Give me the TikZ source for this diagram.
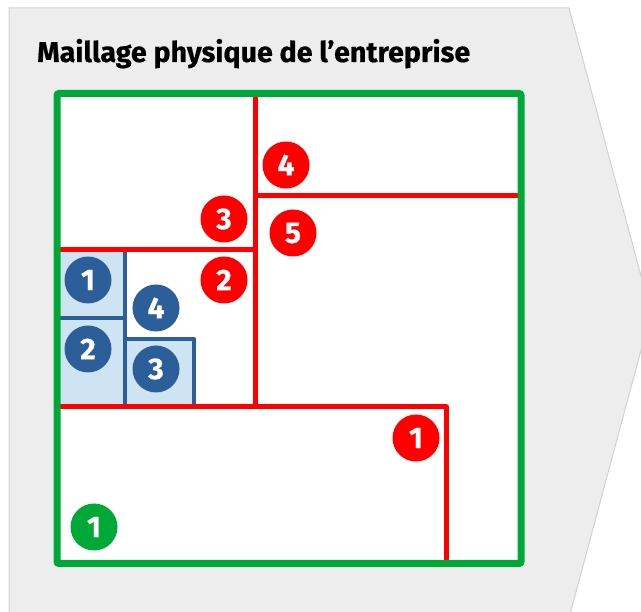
\documentclass[tikz,border=0pt]{standalone}
\usepackage{fontspec}
\usepackage{graphicx}
\setmainfont{Fira Sans}
\newfontfamily\headfont[FakeBold=0.6]{Fira Sans}
\definecolor{pagegray}{HTML}{EDEDED}
\definecolor{edgegray}{HTML}{D2D2D2}
\definecolor{sitegreen}{HTML}{00A838}
\definecolor{zonered}{HTML}{FF0000}
\definecolor{unitblue}{HTML}{2C5F9A}
\definecolor{unitfill}{HTML}{CFE4F3}
\newsavebox\headbox
\makeatletter
\newcommand\headscale{\fpeval{433/\strip@pt\wd\headbox}}
\makeatother
\tikzset{
  badge/.style={circle, minimum size=47pt, inner sep=0pt, text=white,
    font=\headfont\fontsize{30}{32}\selectfont\bfseries},
  redbadge/.style={badge, fill=zonered},
  bluebadge/.style={badge, fill=unitblue},
  greenbadge/.style={badge, fill=sitegreen},
  redwall/.style={draw=zonered, line width=5pt, line join=round},
  bluewall/.style={draw=unitblue, line width=4.5pt, line join=round},
}
\begin{document}
\sbox\headbox{\headfont\fontsize{28.5}{31}\selectfont\bfseries Maillage physique de l’entreprise}
\begin{tikzpicture}[x=1pt, y=-1pt]
\useasboundingbox (0,0) rectangle (641,612);
% chevron backdrop
\begin{scope}
  \clip (0,0) rectangle (641,612);
  \fill[pagegray, draw=edgegray, line width=1pt]
    (9,8) -- (569,8) -- (651,313) -- (569,618) -- (9,618) -- cycle;
\end{scope}
% title
\node[anchor=base west, inner sep=0pt] (title) at (37,62)
  {\scalebox{\headscale}[1]{\usebox\headbox}};
% site outline (white floor)
\fill[white] (57,93.5) rectangle (521,563.5);
% unit areas
\fill[unitfill] (57,250) rectangle (125,407);
\fill[unitfill] (125,339) rectangle (194,407);
\draw[bluewall] (125,250) -- (125,407);
\draw[bluewall] (57,318) -- (125,318);
\draw[bluewall] (125,407) -- (125,339) -- (194,339) -- (194,407);
% zone partitions
\draw[redwall] (255,93.5) -- (255,407);
\draw[redwall] (255,196) -- (521,196);
\draw[redwall] (57,250) -- (255,250);
\draw[redwall] (57,407) -- (446,407) -- (446,563.5);
% site boundary
\draw[sitegreen, line width=7pt, rounded corners=2pt] (57,93.5) rectangle (521,563.5);
% badges
\node[redbadge] (z4) at (286,165) {4};
\node[redbadge] (z3) at (224,219) {3};
\node[redbadge] (z5) at (293,233) {5};
\node[redbadge] (z2) at (224,280) {2};
\node[redbadge] (z1) at (416,438) {1};
\node[bluebadge] (u1) at (88,280) {1};
\node[bluebadge] (u2) at (88,349) {2};
\node[bluebadge] (u4) at (156,308) {4};
\node[bluebadge] (u3) at (156,369) {3};
\node[greenbadge] (s1) at (94,527) {1};
\end{tikzpicture}
\end{document}
